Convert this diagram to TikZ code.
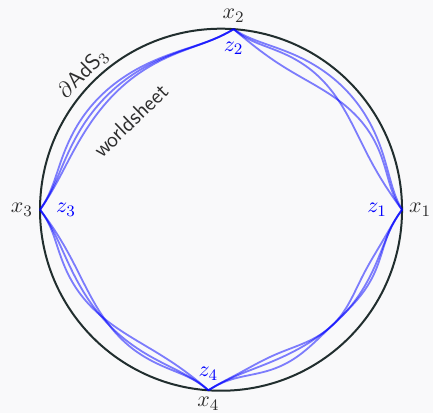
\documentclass[tikz,border=0pt]{standalone}
\usepackage{amsmath, amsfonts, amssymb}
\usepackage{tikz}

\definecolor{bgc}{RGB}{249,249,250}
\definecolor{bdry}{RGB}{33,46,46}
\definecolor{lbl}{RGB}{45,45,45}

\tikzset{
    ws/.style={blue, opacity=0.5, line width=0.9pt, smooth, samples=90},
    zlab/.style={blue},
    xlab/.style={lbl},
    declare function={
        sat(\ang)=1-exp(-6.5*\ang*pi/180);
        pos(\ang,\ta,\tb)=(\ang-\ta)/(\tb-\ta);
        wsr(\ang,\ta,\tb,\dep,\bow,\sw,\sq)=1-(\dep+\bow*sin(180*pos(\ang,\ta,\tb))+\sw*sin(360*pos(\ang,\ta,\tb))+\sq*sin(360*pos(\ang,\ta,\tb))*sin(360*pos(\ang,\ta,\tb)))*sat(abs(\ang-\ta))*sat(abs(\tb-\ang));
    },
}

\begin{document}
\begin{tikzpicture}[scale=3.18, font=\fontsize{11pt}{13pt}\selectfont]
    % 背景
    \fill[bgc] (-1.221,-1.1232) rectangle (1.171,1.1586);
    \useasboundingbox (-1.221,-1.1232) rectangle (1.171,1.1586);
    % 边界圆
    \draw[bdry, line width=1pt] (0,0) circle (1);
    % 插入点
    \coordinate (z1) at (0:1);
    \coordinate (z2) at (86:1);
    \coordinate (z3) at (180:1);
    \coordinate (z4) at (266:1);
    % 世界面 (示意)
    \draw[ws, domain=86:0] plot (\x:{wsr(\x,86,0,0.09,-0.045,0,0)});
    \draw[ws, domain=86:0] plot (\x:{wsr(\x,86,0,0.115,0,0.04,0)});
    \draw[ws, domain=86:0] plot (\x:{wsr(\x,86,0,0.115,0,-0.035,0)});
    \draw[ws, domain=86:180] plot (\x:{wsr(\x,86,180,0.11,-0.022,0.01,0)});
    \draw[ws, domain=86:180] plot (\x:{wsr(\x,86,180,0.11,0,0,0)});
    \draw[ws, domain=86:180] plot (\x:{wsr(\x,86,180,0.11,0.022,-0.01,0)});
    \draw[ws, domain=180:266] plot (\x:{wsr(\x,180,266,0.12,0,0.03,0)});
    \draw[ws, domain=180:266] plot (\x:{wsr(\x,180,266,0.12,0,-0.03,0)});
    \draw[ws, domain=180:266] plot (\x:{wsr(\x,180,266,0.115,0,0.005,0)});
    \draw[ws, domain=266:360] plot (\x:{wsr(\x,266,360,0.115,0,0.005,0.035)});
    \draw[ws, domain=266:360] plot (\x:{wsr(\x,266,360,0.115,0,0.01,0)});
    \draw[ws, domain=266:360] plot (\x:{wsr(\x,266,360,0.115,0,-0.005,-0.03)});
    % 边界点标注
    \node[xlab, right] (x1) at (z1) {$x_1$};
    \node[xlab, above] (x2) at (z2) {$x_2$};
    \node[xlab, left] (x3) at (z3) {$x_3$};
    \node[xlab, below] (x4) at (z4) {$x_4$};
    \node[zlab, left=4pt] (lz1) at (z1) {$z_1$};
    \node[zlab, below=3pt] (lz2) at (z2) {$z_2$};
    \node[zlab, right=4.5pt] (lz3) at (z3) {$z_3$};
    \node[zlab, above=1.5pt] (lz4) at (z4) {$z_4$};
    % 文字
    \node[lbl, rotate=45] (ads) at (135.3:1.07) {$\partial\mathsf{AdS}_3$};
    \node[lbl, rotate=44] (wsl) at (135.4:0.70) {\textsf{worldsheet}};
\end{tikzpicture}
\end{document}
